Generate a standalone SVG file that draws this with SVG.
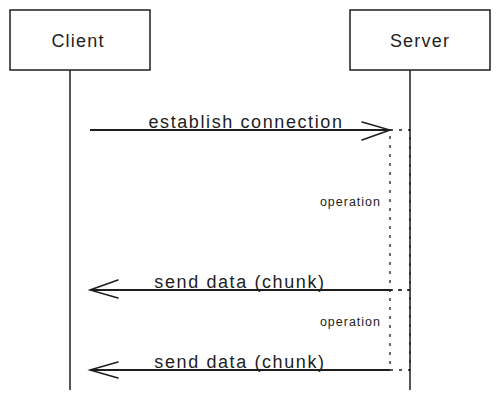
<svg xmlns="http://www.w3.org/2000/svg" width="500" height="400" viewBox="0 0 500 400">
<style>
.box{fill:#fff;stroke:#1e1e1e;stroke-width:1.5}
.life{stroke:#1e1e1e;stroke-width:1.5;fill:none}
.msg{stroke:#1e1e1e;stroke-width:1.8;fill:none}
.head{stroke:#1e1e1e;stroke-width:1.5;fill:none;stroke-linecap:round}
.op{stroke:#1e1e1e;stroke-width:1.3;fill:none;stroke-dasharray:3 6}
.t{font-family:"Liberation Sans",Arial,sans-serif;fill:#1e1e1e}
.lbl{font-size:18px;letter-spacing:1.6px}
.node{font-size:18px;letter-spacing:1.2px}
.small{font-size:12.5px;letter-spacing:1px}
</style>
<rect width="500" height="400" fill="#fff"/>
<g id="client">
<line class="life" x1="70" y1="70" x2="70" y2="390"/>
<rect class="box" x="10" y="10" width="140" height="60"/>
<text class="t node" x="78" y="47" text-anchor="middle">Client</text>
</g>
<g id="server">
<line class="life" x1="410" y1="70" x2="410" y2="390"/>
<rect class="box" x="350" y="10" width="140" height="60"/>
<text class="t node" x="420" y="47" text-anchor="middle">Server</text>
</g>
<g id="operation1">
<rect class="op" x="390" y="130" width="20" height="160"/>
<text class="t small" x="381" y="206" text-anchor="end">operation</text>
</g>
<g id="operation2">
<rect class="op" x="390" y="290" width="20" height="80"/>
<text class="t small" x="381" y="326" text-anchor="end">operation</text>
</g>
<g id="connectors">
<line class="msg" x1="90" y1="130" x2="390" y2="130"/>
<polyline class="head" points="362,122 390,130 362,140"/>
<text class="t lbl" x="246" y="128" text-anchor="middle">establish connection</text>
<line class="msg" x1="390" y1="290" x2="90" y2="290"/>
<polyline class="head" points="118,280 90,290 118,298"/>
<text class="t lbl" x="240" y="288" text-anchor="middle">send data (chunk)</text>
<line class="msg" x1="390" y1="370" x2="90" y2="370"/>
<polyline class="head" points="118,362 90,370 118,378"/>
<text class="t lbl" x="240" y="368" text-anchor="middle">send data (chunk)</text>
</g>
</svg>
